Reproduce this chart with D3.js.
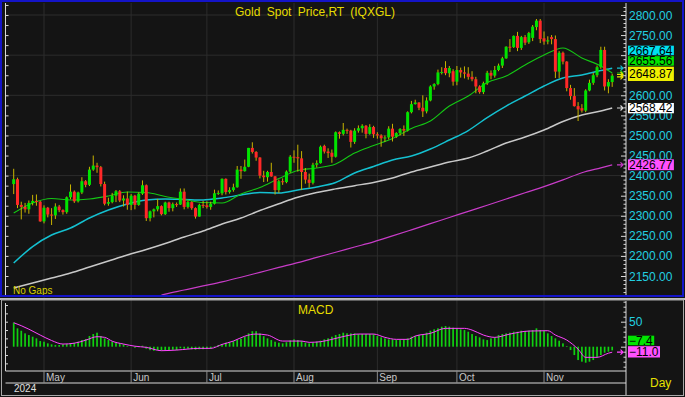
<!DOCTYPE html>
<html>
<head>
<meta charset="utf-8">
<script src="https://cdnjs.cloudflare.com/ajax/libs/d3/7.8.5/d3.min.js"></script>
<style>
body{margin:0;background:#141414;}
svg{display:block;font-family:"Liberation Sans",Arial,sans-serif;}
</style>
</head>
<body>
<div id="chart"></div>
<script>
//daily gold spot candles, 19 Apr - 27 Nov 2024 (weekdays only)
var opens = [2379,2391,2327,2322,2316,2332,2337,2335,2286,2320,
 2303,2301,2323,2314,2309,2346,2360,2336,2358,2386,
 2377,2415,2425,2421,2379,2330,2334,2350,2361,2338,
 2343,2327,2350,2327,2355,2376,2294,2311,2316,2324,
 2304,2333,2319,2329,2328,2360,2322,2334,2319,2298,
 2327,2326,2322,2330,2356,2356,2392,2359,2364,2371,
 2415,2411,2422,2469,2459,2445,2400,2396,2409,2398,
 2364,2386,2384,2410,2447,2446,2443,2409,2390,2382,
 2427,2431,2474,2460,2457,2447,2508,2504,2514,2512,
 2484,2512,2518,2524,2504,2521,2503,2500,2493,2495,
 2517,2497,2506,2516,2512,2558,2578,2582,2569,2560,
 2587,2622,2628,2657,2668,2655,2660,2634,2663,2657,
 2654,2646,2640,2622,2608,2630,2656,2649,2663,2674,
 2692,2721,2720,2748,2718,2745,2732,2743,2770,2786,
 2742,2734,2745,2740,2659,2706,2684,2618,2598,2573,
 2568,2562,2612,2631,2650,2670,2713,2622,2633];
var highs = [2417,2395,2335,2332,2338,2352,2353,2337,2326,2322,
 2319,2331,2327,2316,2348,2378,2363,2360,2396,2389,
 2422,2450,2432,2424,2385,2345,2357,2364,2364,2351,
 2360,2354,2352,2358,2388,2378,2313,2318,2342,2326,
 2335,2335,2333,2333,2368,2368,2337,2336,2321,2330,
 2337,2336,2335,2365,2363,2393,2393,2371,2380,2424,
 2424,2440,2469,2483,2461,2446,2412,2412,2432,2399,
 2390,2393,2413,2451,2463,2477,2461,2419,2405,2432,
 2438,2475,2477,2468,2465,2510,2510,2531,2517,2514,
 2518,2525,2528,2526,2528,2524,2508,2503,2500,2523,
 2529,2508,2518,2525,2560,2586,2589,2583,2600,2595,
 2625,2630,2664,2670,2685,2673,2665,2673,2669,2672,
 2670,2660,2646,2625,2634,2661,2662,2673,2679,2696,
 2722,2740,2749,2758,2748,2750,2758,2775,2790,2790,
 2759,2747,2750,2749,2710,2709,2685,2626,2618,2583,
 2578,2615,2639,2656,2674,2721,2721,2640,2654];
var lows = [2354,2319,2291,2308,2305,2326,2325,2285,2281,2296,
 2277,2292,2309,2303,2305,2341,2332,2333,2354,2371,
 2374,2412,2407,2373,2326,2325,2331,2334,2334,2323,
 2315,2314,2316,2325,2352,2287,2286,2296,2311,2301,
 2302,2310,2311,2322,2327,2316,2318,2315,2293,2298,
 2319,2318,2315,2328,2352,2351,2353,2355,2360,2370,
 2392,2410,2421,2455,2437,2393,2384,2385,2397,2353,
 2357,2377,2381,2407,2432,2410,2364,2380,2370,2378,
 2420,2430,2455,2444,2432,2445,2492,2500,2504,2470,
 2479,2507,2507,2493,2502,2494,2492,2472,2484,2490,
 2485,2494,2500,2499,2510,2555,2577,2563,2546,2555,
 2585,2614,2625,2652,2650,2645,2624,2625,2644,2642,
 2639,2635,2605,2604,2603,2626,2640,2644,2660,2668,
 2691,2708,2718,2710,2713,2725,2728,2735,2762,2730,
 2726,2727,2727,2643,2643,2677,2610,2589,2572,2536,
 2557,2558,2610,2626,2645,2666,2612,2605,2621];
var closes = [2391,2327,2322,2316,2332,2337,2335,2286,2320,2303,
 2301,2323,2314,2309,2346,2360,2336,2358,2386,2377,
 2415,2425,2421,2379,2330,2334,2350,2361,2338,2343,
 2327,2350,2327,2355,2376,2294,2311,2316,2324,2304,
 2333,2319,2329,2328,2360,2322,2334,2319,2298,2327,
 2326,2322,2330,2356,2357,2392,2359,2364,2371,2415,
 2411,2422,2469,2459,2445,2400,2396,2409,2398,2364,
 2386,2384,2410,2447,2446,2443,2409,2390,2382,2427,
 2431,2472,2460,2456,2447,2508,2504,2514,2512,2484,
 2512,2518,2524,2504,2521,2503,2500,2493,2495,2517,
 2497,2506,2516,2512,2558,2578,2582,2569,2560,2587,
 2622,2628,2657,2658,2655,2668,2634,2663,2657,2654,
 2646,2640,2622,2608,2630,2656,2649,2663,2674,2692,
 2721,2720,2748,2718,2745,2731,2755,2771,2786,2740,
 2734,2737,2740,2659,2706,2684,2618,2598,2573,2565,
 2562,2612,2631,2650,2670,2713,2622,2633,2648.87];

//moving averages every few days
var maIdx = [0,5,10,15,20,25,30,35,40,45,50,55,60,65,70,75,80,85,90,95,100,105,110,115,120,125,130,135,140,145,150,155,158];
var ma20 = [2306.8,2331.8,2343.0,2339.2,2341.7,2349.2,2359.1,2357.9,2347.9,2340.5,2333.0,2331.8,2354.2,2370.4,2392.8,2412.7,2418.9,2428.9,2456.3,2475.0,2492.4,2517.3,2536.0,2573.3,2598.2,2631.8,2648.0,2675.5,2700.4,2717.8,2692.9,2673.0,2655.56];
var ma50 = [2182.3,2223.4,2252.0,2269.5,2294.4,2314.3,2329.3,2339.2,2341.7,2340.5,2339.2,2344.2,2351.7,2357.9,2356.7,2364.1,2371.6,2382.8,2406.5,2422.7,2438.9,2448.8,2466.3,2488.7,2512.3,2544.7,2573.3,2598.2,2623.2,2643.1,2650.6,2661.8,2667.64];
var ma100 = [2120.0,2132.5,2144.9,2157.4,2172.3,2187.3,2202.2,2215.9,2230.9,2247.1,2262.0,2279.5,2294.4,2313.0,2330.0,2346.0,2358.0,2367.0,2375.0,2383.0,2394.0,2409.0,2421.4,2433.9,2443.8,2461.3,2481.2,2496.1,2513.6,2534.7,2550.9,2560.9,2568.42];
var ma200Idx = [39,40,45,50,55,60,65,70,75,80,85,90,95,100,105,110,115,120,125,130,135,140,145,150,155,158];
var ma200 = [2102.6,2104.9,2115.1,2125.3,2135.5,2146.9,2159.1,2171.4,2183.3,2196.3,2209.2,2222.2,2235.1,2249.8,2265.0,2280.4,2295.6,2311.1,2326.3,2341.7,2357.2,2372.6,2389.3,2407.2,2419.4,2426.77];

//macd bars, one per day, and its signal line
var macd = [48,36.7,32,26.7,23.3,20,16.7,11.3,10,6.7,4.7,3.3,3.3,4.7,5.3,6.7,8,10,13.3,15.3,21.3,25.3,28,21.3,16.7,13.3,10,8,6.7,4.7,1.3,0,
 -2,-1,2,-4,-7,-8,-7,-8,-7,-7,-6,-7,-3,-4,-4,-5,-6,-5,-5,-4,-4,
 1,3.3,5,8,8.5,11,14,16,20,26.7,31,31,26.7,21,16.7,13.3,10,8,6.7,9,12.5,14.7,13.3,11.3,8,6.7,8,10,12,14.7,16.7,
 20,23.3,25.3,28,26.7,26.7,26.7,25.3,25.3,25.3,25.3,25,21.3,18.7,16.7,14.7,14.7,13.3,13.3,14.7,16.7,20,21.3,23.3,25.3,28,
 32,34.7,36.7,40,41.3,40,38,36.7,34.7,33.3,30,25.3,21.3,18.7,14.7,13.3,16.7,18.7,23.3,25.3,26.7,28,30,30,32,31.3,32,33.3,
 36.7,33.3,32,26.7,21.3,16.7,12,6.7,1.3,-6.7,-16.7,-26.7,-30,-32,-30,-26.7,-21.3,-16.7,-12,-10,-7.4];
var sigIdx = [0,2,4,7,10,13,16,19,22,24,26,29,32,35,39,43,49,52,55,58,61,64,67,71,76,78,81,84,88,91,95,98,101,104,106,110,114,119,121,124,127,131,136,141,143,146,149,151,154,157,158];
var sigVal = [48,42,35,23.3,12.4,5.3,7,13,20,18.7,11,5.3,1,-1.3,-8,-6.7,-3.3,-3.3,4.6,11.3,21,25.3,23.3,11.3,11.3,8.7,10,14.7,22,25.3,25.3,18.7,14.7,14.7,21.3,26.7,36.7,36.7,33.3,23.3,18.7,25.3,31.3,32,23.3,13.3,-5,-21.3,-21.3,-13,-11];

var priceTicks = d3.range(2150, 2801, 50);
var macdTicks = [50];
var monthFmt = d3.timeFormat("%b");

var W = 685, H = 397;
var plotL = 5.5, plotR = 626, mainT = 3, mainB = 295, subT = 301, subB = 371;

//trading days: weekdays from 19 Apr 2024
var days = d3.timeDays(new Date(2024, 3, 19), new Date(2024, 11, 1))
  .filter(function(d){ return d.getDay() > 0 && d.getDay() < 6; })
  .slice(0, closes.length);

var x = d3.scaleLinear().domain([0, closes.length - 1]).range([13.7, 612.2]);
var y = d3.scaleLinear().domain([2150, 2800]).range([276, 15]);
var ym = d3.scaleLinear().domain([0, 50]).range([346.7, 321.7]);

var svg = d3.select("#chart").append("svg").attr("width", W).attr("height", H);

svg.append("rect").attr("width", W).attr("height", H).attr("fill", "#141414");

var defs = svg.append("defs");
defs.append("clipPath").attr("id", "clipMain").append("rect")
  .attr("x", plotL).attr("y", mainT).attr("width", plotR - plotL).attr("height", mainB - mainT);
defs.append("clipPath").attr("id", "clipSub").append("rect")
  .attr("x", plotL).attr("y", subT).attr("width", plotR - plotL).attr("height", subB - subT);

//month boundaries
var monthStarts = [];
days.forEach(function(d, i){
  if (i > 0 && d.getMonth() != days[i-1].getMonth()) monthStarts.push(i);
});

var grid = svg.append("g").attr("stroke", "#2c2c2c").attr("stroke-width", 1);
grid.selectAll(".vg").data(monthStarts).enter().append("line")
  .attr("x1", function(i){ return x(i); }).attr("x2", function(i){ return x(i); })
  .attr("y1", mainT).attr("y2", subB);
grid.selectAll(".hg").data(d3.range(2200, 2801, 100)).enter().append("line")
  .attr("x1", plotL).attr("x2", plotR)
  .attr("y1", function(v){ return y(v); }).attr("y2", function(v){ return y(v); });

//moving averages
var main = svg.append("g").attr("clip-path", "url(#clipMain)");
function maLine(idx, vals, color, w) {
  var line = d3.line()
    .x(function(d){ return x(d[0]); })
    .y(function(d){ return y(d[1]); })
    .curve(d3.curveMonotoneX);
  main.append("path").datum(d3.zip(idx, vals))
    .attr("fill", "none").attr("stroke", color).attr("stroke-width", w)
    .attr("d", line);
}
maLine(ma200Idx, ma200, "#c83cc8", 1.2);
maLine(maIdx, ma100, "#c8c8c8", 1.5);
maLine(maIdx, ma50, "#14c0d0", 1.5);
maLine(maIdx, ma20, "#14c814", 1.1);

//candles
var candle = main.selectAll(".candle").data(d3.range(closes.length)).enter().append("g");
candle.append("line")
  .attr("x1", function(i){ return x(i); }).attr("x2", function(i){ return x(i); })
  .attr("y1", function(i){ return y(highs[i]); }).attr("y2", function(i){ return y(lows[i]); })
  .attr("stroke", "#c8b400").attr("stroke-width", 1);
candle.append("rect")
  .attr("x", function(i){ return x(i) - 1.5; })
  .attr("width", 3)
  .attr("y", function(i){ return y(Math.max(opens[i], closes[i])); })
  .attr("height", function(i){ return Math.max(1, Math.abs(y(opens[i]) - y(closes[i]))); })
  .attr("fill", function(i){ return closes[i] >= opens[i] ? "#00e400" : "#ff2828"; });

//macd panel
var sub = svg.append("g").attr("clip-path", "url(#clipSub)");
sub.selectAll(".bar").data(macd).enter().append("rect")
  .attr("x", function(d, i){ return x(i) - 0.85; })
  .attr("width", 1.7)
  .attr("y", function(d){ return Math.min(ym(0), ym(d)); })
  .attr("height", function(d){ return Math.abs(ym(d) - ym(0)); })
  .attr("fill", "#10d010");
sub.append("path").datum(d3.zip(sigIdx, sigVal))
  .attr("fill", "none").attr("stroke", "#ff44ff").attr("stroke-width", 1)
  .attr("d", d3.line().x(function(d){ return x(d[0]); }).y(function(d){ return ym(d[1]); }).curve(d3.curveMonotoneX));

//axes lines and ticks
var ax = svg.append("g").attr("stroke", "#d8d8d8").attr("stroke-width", 1);
ax.append("line").attr("x1", plotR).attr("x2", plotR).attr("y1", mainT).attr("y2", mainB);
ax.append("line").attr("x1", plotR).attr("x2", plotR).attr("y1", subT).attr("y2", H - 2);
ax.append("line").attr("x1", plotL).attr("x2", plotL).attr("y1", mainT).attr("y2", mainB);
ax.append("line").attr("x1", plotL).attr("x2", plotL).attr("y1", subT + 2).attr("y2", subB);

ax.selectAll(".rt").data(d3.range(2110, 2821, 10)).enter().append("line")
  .attr("x1", function(v){ return v % 50 == 0 ? plotR - 5 : plotR - 2.5; }).attr("x2", plotR)
  .attr("y1", function(v){ return y(v) + 0.5; }).attr("y2", function(v){ return y(v) + 0.5; });
ax.selectAll(".lt").data(d3.range(2125, 2826, 25)).enter().append("line")
  .attr("x1", plotL).attr("x2", plotL + 3)
  .attr("y1", function(v){ return y(v) + 0.5; }).attr("y2", function(v){ return y(v) + 0.5; });
ax.selectAll(".rtm").data(d3.range(-40, 91, 10)).enter().append("line")
  .attr("x1", function(v){ return v % 50 == 0 ? plotR - 5 : plotR - 2.5; }).attr("x2", plotR)
  .attr("y1", function(v){ return ym(v) + 0.5; }).attr("y2", function(v){ return ym(v) + 0.5; });
ax.selectAll(".ltm").data(d3.range(-2, 6)).enter().append("line")
  .attr("x1", plotL).attr("x2", plotL + 2.5)
  .attr("y1", function(k){ return ym(k * 50 / 3) + 0.5; }).attr("y2", function(k){ return ym(k * 50 / 3) + 0.5; });

//time axis
ax.append("line").attr("x1", plotL).attr("x2", plotR).attr("y1", subB).attr("y2", subB);
ax.append("line").attr("x1", plotL).attr("x2", plotR).attr("y1", 383).attr("y2", 383);
svg.append("g").attr("stroke", "#8c8c8c").selectAll("line").data(monthStarts).enter().append("line")
  .attr("x1", function(i){ return x(i); }).attr("x2", function(i){ return x(i); })
  .attr("y1", subB).attr("y2", 383);
svg.append("g").attr("fill", "#c8c8c8").attr("font-size", "10px")
  .selectAll("text").data(monthStarts).enter().append("text")
  .attr("x", function(i){ return x(i) + 2; }).attr("y", 381)
  .text(function(i){ return monthFmt(days[i]); });
svg.append("text").attr("x", 14).attr("y", 392).attr("fill", "#e0e0e0").attr("font-size", "10px")
  .text(days[0].getFullYear());

//right axis labels go under the value boxes, filled in once the boxes are placed
var labelG = svg.append("g").attr("fill", "#22d0e0").attr("font-size", "12px");
var covered = [];

//last value markers: arrows inside the plot and boxes on the axis
function arrow(yy, color) {
  svg.append("path")
    .attr("d", "M617," + yy + "h6m-2.5,-2.5l2.5,2.5l-2.5,2.5")
    .attr("fill", "none").attr("stroke", color).attr("stroke-width", 1.2);
}
function boxes(list, fmt) {
  //first entry is the anchor, the others stack upward above it
  var top = null;
  list.forEach(function(b, k){
    var y0, y1;
    if (k == 0) { y0 = b.y - b.up; y1 = b.y + 5.3; }
    else if (top != null && b.y + 5 > top - 1) { y1 = top - 1; y0 = y1 - 9.5; }
    else { y0 = b.y - 5; y1 = b.y + 5; }
    if (k == 0 || top == null || y0 < top) top = y0;
    covered.push([y0, y1]);
    var t = svg.append("text").attr("x", 629).attr("y", (y0 + y1) / 2 + 4.3)
      .attr("font-size", "12px").attr("fill", "#000").text(fmt(b.v));
    var w = t.node().getComputedTextLength();
    svg.insert("rect", function(){ return t.node(); })
      .attr("x", 628).attr("y", y0).attr("width", w + 2.5).attr("height", y1 - y0)
      .attr("fill", b.color);
  });
}
var lastClose = closes[closes.length - 1];
var last20 = ma20[ma20.length - 1], last50 = ma50[ma50.length - 1];
var last100 = ma100[ma100.length - 1], last200 = ma200[ma200.length - 1];
arrow(y(last50), "#14c0d0");
arrow(y(last20), "#14c814");
arrow(y(lastClose) - 1.2, "#e8e000");
arrow(y(lastClose) + 1.2, "#e8e000");
arrow(y(last100), "#d8d8d8");
arrow(y(last200), "#c83cc8");
arrow(ym(sigVal[sigVal.length - 1]), "#ff44ff");

var f2 = d3.format(".2f"), f1 = d3.format(".1f");
boxes([{v: lastClose, y: y(lastClose), up: 9, color: "#f0f000"},
       {v: last20, y: y(last20), color: "#00e400"},
       {v: last50, y: y(last50), color: "#00e0f0"}], f2);
boxes([{v: last100, y: y(last100), up: 5, color: "#ffffff"}], f2);
boxes([{v: last200, y: y(last200), up: 5.5, color: "#ff50ff"}], f2);
boxes([{v: sigVal[sigVal.length - 1], y: ym(sigVal[sigVal.length - 1]), up: 6, color: "#ff50ff"},
       {v: macd[macd.length - 1], y: ym(macd[macd.length - 1]), color: "#00e400"}], f1);

//a tick label is kept unless a value box hides most of it
function hidden(yc) {
  return covered.some(function(c){
    var a = Math.max(c[0], yc - 4.5), b = Math.min(c[1], yc + 4.5);
    return b - a > 4.5;
  });
}
labelG.selectAll(".pl").data(priceTicks.filter(function(v){ return !hidden(y(v)); }))
  .enter().append("text")
  .attr("x", 629).attr("y", function(v){ return y(v) + 4.5; })
  .text(function(v){ return d3.format(".2f")(v); });
labelG.selectAll(".ml").data(macdTicks.filter(function(v){ return !hidden(ym(v)); }))
  .enter().append("text")
  .attr("x", 629).attr("y", function(v){ return ym(v) + 4.5; })
  .text(function(v){ return v; });

//titles
svg.append("text").attr("x", 315).attr("y", 16).attr("text-anchor", "middle")
  .attr("fill", "#e6dc00").attr("font-size", "12px").attr("word-spacing", "3px")
  .text("Gold Spot Price,RT (IQXGL)");
svg.append("text").attr("x", 298).attr("y", 314)
  .attr("fill", "#e6dc00").attr("font-size", "12px").text("MACD");
svg.append("text").attr("x", 13).attr("y", 294)
  .attr("fill", "#d8d000").attr("font-size", "10px").text("No Gaps");
svg.append("text").attr("x", 650).attr("y", 387)
  .attr("fill", "#e6e000").attr("font-size", "12px").text("Day");

//panel frames
svg.append("rect").attr("x", 1).attr("y", 1).attr("width", 682).attr("height", 295)
  .attr("fill", "none").attr("stroke", "#1414c8").attr("stroke-width", 2);
svg.append("line").attr("x1", 0).attr("x2", W).attr("y1", 299).attr("y2", 299)
  .attr("stroke", "#bdbdbd").attr("stroke-width", 2);
svg.append("rect").attr("x", 1.5).attr("y", 300).attr("width", 682).attr("height", 95.5)
  .attr("fill", "none").attr("stroke", "#a8a8a8").attr("stroke-width", 1);
</script>
</body>
</html>
